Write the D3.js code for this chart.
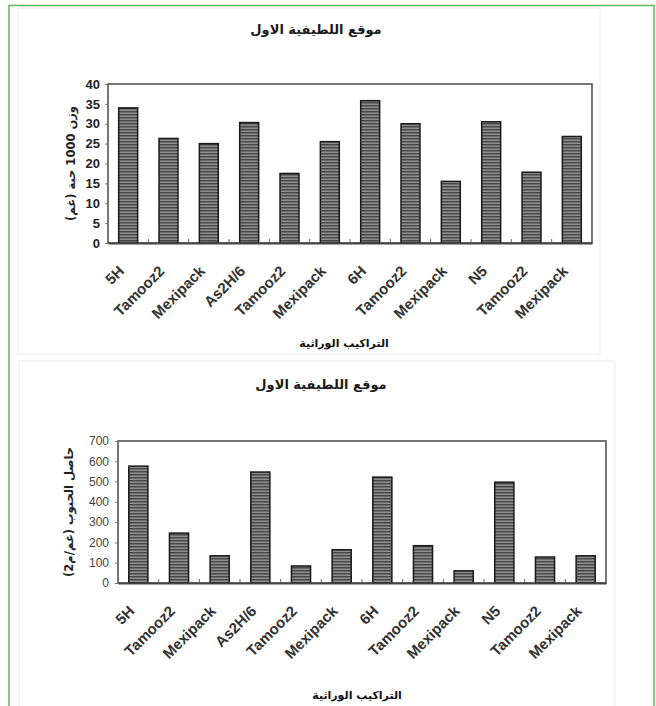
<!DOCTYPE html>
<html>
<head>
<meta charset="utf-8">
<script src="https://cdn.jsdelivr.net/npm/d3@7"></script>
<style>
  html, body { margin: 0; padding: 0; background: #fff; }
  svg { display: block; }
</style>
</head>
<body>
<svg id="fig" width="656" height="706"></svg>
<script>
// Genotypes, in plotting order (names repeat, so bars are keyed by index)
const genotypes = ["5H", "Tamooz2", "Mexipack", "As2H/6", "Tamooz2", "Mexipack",
                   "6H", "Tamooz2", "Mexipack", "N5", "Tamooz2", "Mexipack"];

// 1000-grain weight (g)
const grainWeight = [34, 26.3, 25, 30.3, 17.5, 25.5, 35.8, 30, 15.5, 30.5, 17.8, 26.8];
const weightTicks = [0, 5, 10, 15, 20, 25, 30, 35, 40];

// Grain yield (g/m2)
const grainYield = [576, 246, 134, 547, 84, 164, 522, 184, 60, 497, 128, 134];
const yieldTicks = [0, 100, 200, 300, 400, 500, 600, 700];

const siteTitle = "موقع اللطيفية الاول";
const xTitle = "التراكيب الوراثية";
const weightTitle = "وزن 1000 حبة (غم)";
const yieldTitle = "حاصل الحبوب (غم/م2)";

const svg = d3.select("#fig");
const arabicFont = "'DejaVu Sans', 'Noto Sans', sans-serif";
const latinFont = "'Liberation Sans', Arial, sans-serif";

// Hatched fill used for every bar
const defs = svg.append("defs");
const pat = defs.append("pattern")
  .attr("id", "hatch").attr("patternUnits", "userSpaceOnUse")
  .attr("width", 6).attr("height", 3);
pat.append("rect").attr("width", 6).attr("height", 3).attr("fill", "#8e8e8e");
pat.append("line").attr("x1", 0).attr("x2", 6).attr("y1", 0.75).attr("y2", 0.75)
  .attr("stroke", "#444").attr("stroke-width", 1.4);

// Outer frame
svg.append("rect").attr("x", 9).attr("y", 5.5).attr("width", 645).attr("height", 712)
  .attr("fill", "none").attr("stroke", "#5cb85c").attr("stroke-width", 1.5);

function drawChart(opt) {
  const g = svg.append("g");

  // panel background
  g.append("rect").attr("x", opt.panel[0]).attr("y", opt.panel[1])
    .attr("width", opt.panel[2]).attr("height", opt.panel[3])
    .attr("fill", "#fff").attr("stroke", "#ececec").attr("stroke-width", 1);

  const x = d3.scaleBand().domain(d3.range(genotypes.length))
    .range([opt.left, opt.right]).paddingInner(0.53).paddingOuter(0.265);
  const y = d3.scaleLinear().domain(opt.domain).range([opt.bottom, opt.top]);

  // title
  g.append("text").attr("x", opt.titleX).attr("y", opt.titleY)
    .attr("text-anchor", "middle").attr("font-family", arabicFont)
    .attr("font-weight", "bold").attr("font-size", 13).attr("fill", "#1a1a1a")
    .text(siteTitle);

  // plot box
  g.append("rect").attr("x", opt.left).attr("y", opt.top)
    .attr("width", opt.right - opt.left).attr("height", opt.bottom - opt.top)
    .attr("fill", "none").attr("stroke", "#555").attr("stroke-width", 1.6);

  // bars
  g.selectAll("rect.bar").data(opt.values).join("rect")
    .attr("class", "bar")
    .attr("x", (d, i) => x(i))
    .attr("width", x.bandwidth())
    .attr("y", d => y(d))
    .attr("height", d => y(0) - y(d))
    .attr("fill", "url(#hatch)")
    .attr("stroke", "#1a1a1a").attr("stroke-width", 1.5);

  // y axis
  const yAxis = g.append("g").attr("transform", `translate(${opt.left},0)`)
    .call(d3.axisLeft(y).tickValues(opt.ticks).tickSize(3).tickPadding(opt.tickPad));
  yAxis.select(".domain").remove();
  yAxis.selectAll(".tick line").attr("stroke", "#777");
  yAxis.selectAll(".tick text")
    .attr("font-family", opt.tickFont).attr("font-weight", opt.tickWeight)
    .attr("font-size", opt.tickSize).attr("fill", opt.tickColor);

  // x axis: labels under each bar, small ticks between categories
  const xAxis = g.append("g").attr("transform", `translate(0,${opt.bottom})`)
    .call(d3.axisBottom(x).tickSize(0).tickFormat(i => genotypes[i]));
  xAxis.select(".domain").attr("stroke", "#444").attr("stroke-width", 2.2);
  xAxis.selectAll(".tick text")
    .attr("font-family", latinFont).attr("font-weight", "bold")
    .attr("font-size", 15).attr("fill", "#333")
    .attr("text-anchor", "end")
    .attr("transform", "translate(-3,29) rotate(-45)")
    .attr("dy", 0).attr("y", 0).attr("x", 0);

  const step = x.step();
  const boundaries = d3.range(1, genotypes.length).map(i => x(i) - step * x.paddingInner() / 2);
  g.selectAll("line.sep").data(boundaries).join("line")
    .attr("class", "sep")
    .attr("x1", d => d).attr("x2", d => d)
    .attr("y1", opt.bottom).attr("y2", opt.bottom - 4)
    .attr("stroke", "#666").attr("stroke-width", 1);

  // axis titles
  g.append("text")
    .attr("transform", `translate(${opt.yTitleX},${(opt.top + opt.bottom) / 2}) rotate(-90)`)
    .attr("text-anchor", "middle").attr("font-family", arabicFont)
    .attr("font-weight", "bold").attr("font-size", 11.5).attr("fill", "#222")
    .text(opt.yTitle);

  g.append("text").attr("x", opt.xTitleX).attr("y", opt.xTitleY)
    .attr("text-anchor", "middle").attr("font-family", arabicFont)
    .attr("font-weight", "bold").attr("font-size", 11).attr("fill", "#111")
    .text(xTitle);
}

drawChart({
  panel: [18, 8, 582, 346],
  left: 108, right: 592, top: 84, bottom: 243,
  domain: [0, 40], ticks: weightTicks, values: grainWeight,
  tickFont: "'Liberation Sans Narrow', 'Liberation Sans', Arial, sans-serif",
  tickWeight: "bold", tickSize: 13, tickColor: "#222", tickPad: 5,
  titleX: 316, titleY: 34,
  yTitle: weightTitle, yTitleX: 75,
  xTitleX: 344, xTitleY: 347
});

drawChart({
  panel: [19, 361, 596, 350],
  left: 118, right: 606, top: 441, bottom: 583,
  domain: [0, 700], ticks: yieldTicks, values: grainYield,
  tickFont: "'Liberation Sans Narrow', 'Liberation Sans', Arial, sans-serif",
  tickWeight: "normal", tickSize: 12, tickColor: "#444", tickPad: 6,
  titleX: 321, titleY: 389,
  yTitle: yieldTitle, yTitleX: 73,
  xTitleX: 357, xTitleY: 699
});
</script>
</body>
</html>
